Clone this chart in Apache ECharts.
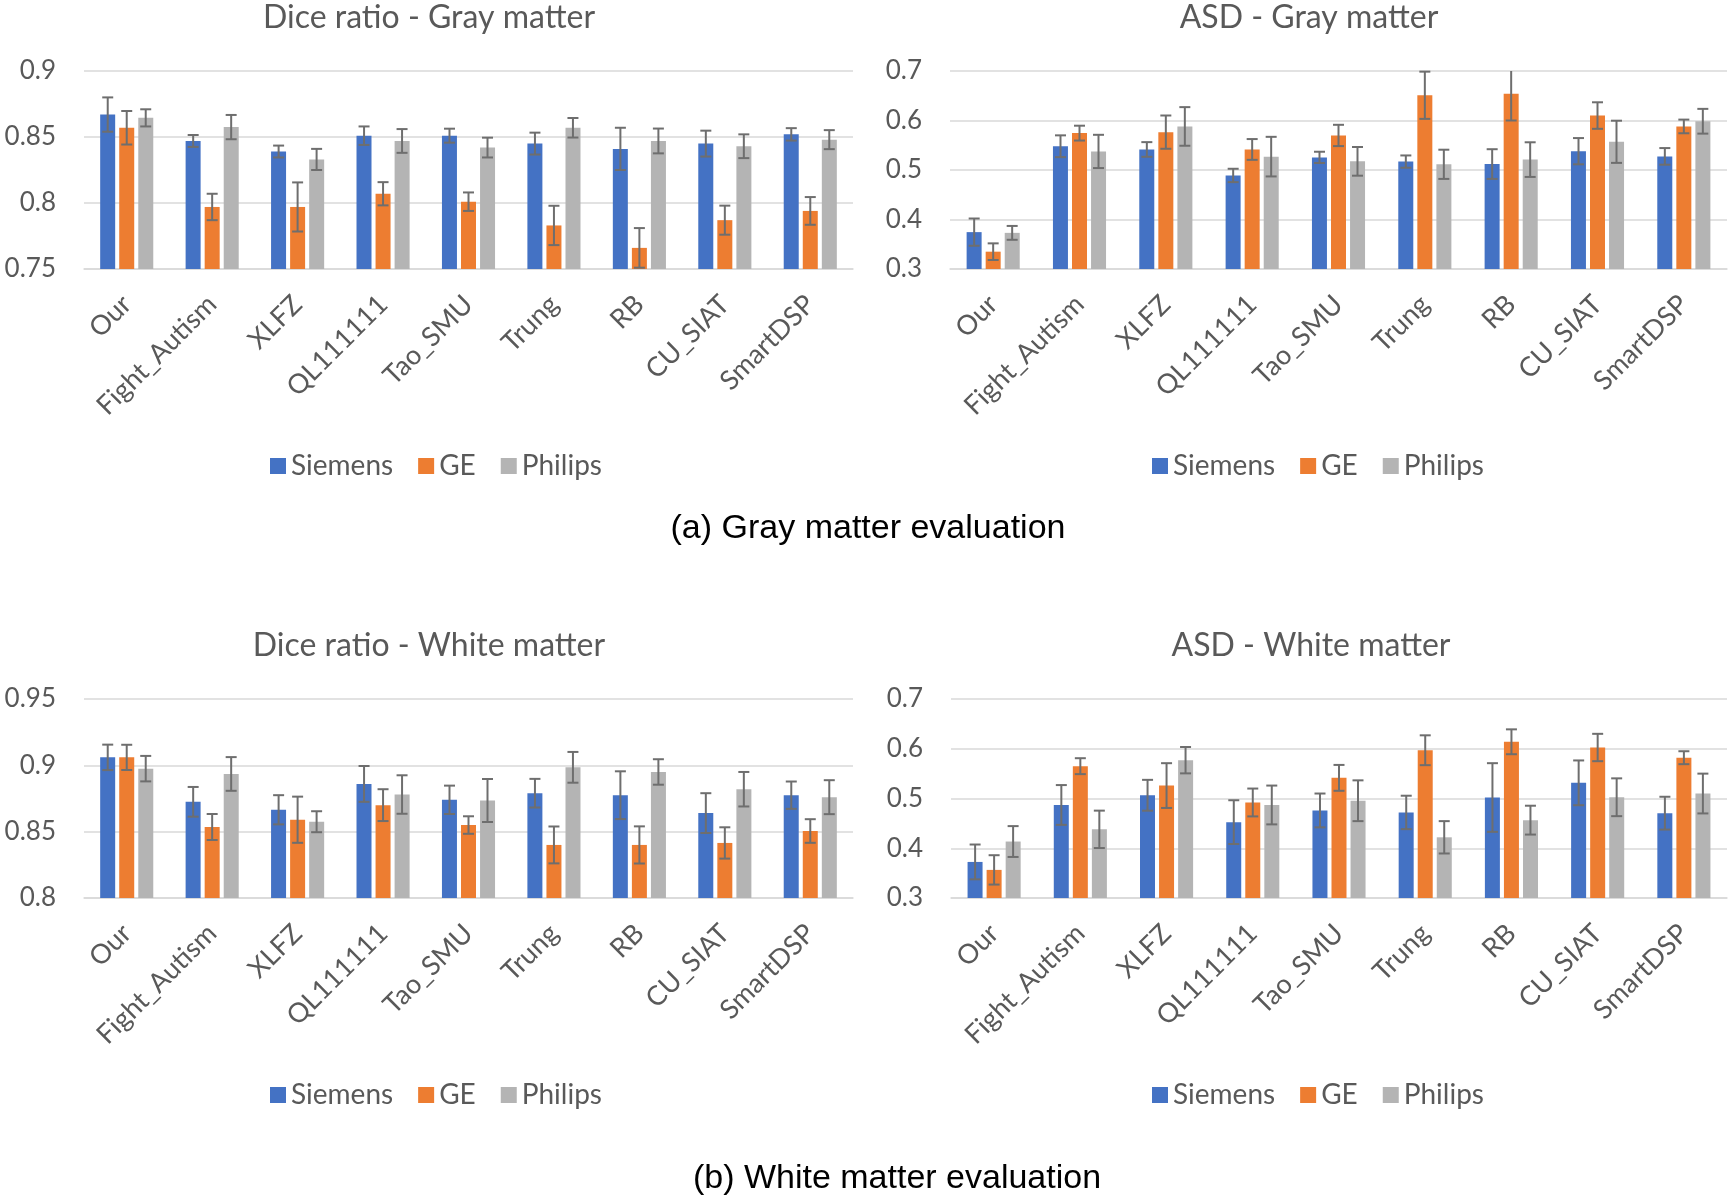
<!DOCTYPE html>
<html>
<head>
<meta charset="utf-8">
<script src="https://cdn.jsdelivr.net/npm/echarts@6/dist/echarts.min.js"></script>
<style>
html,body{margin:0;padding:0;background:#fff;}
#chart{width:1730px;height:1200px;}
</style>
</head>
<body>
<div id="chart"></div>
<script>
// ---------- data ----------
const categories = ['Our','Fight_Autism','XLFZ','QL111111','Tao_SMU','Trung','RB','CU_SIAT','SmartDSP'];
const vendors = ['Siemens','GE','Philips'];

// Dice ratio - Gray matter
const diceGM_siemens     = [0.867,0.847,0.839,0.851,0.851,0.845,0.841,0.845,0.852];
const diceGM_siemens_err = [0.013,0.0045,0.0045,0.007,0.0053,0.0083,0.016,0.0098,0.0047];
const diceGM_ge          = [0.857,0.797,0.797,0.807,0.801,0.783,0.766,0.787,0.794];
const diceGM_ge_err      = [0.0127,0.010,0.0186,0.0088,0.007,0.0149,0.015,0.011,0.0105];
const diceGM_philips     = [0.8645,0.8575,0.833,0.847,0.842,0.857,0.847,0.843,0.848];
const diceGM_philips_err = [0.0065,0.0092,0.008,0.009,0.0075,0.0074,0.0094,0.009,0.0072];

// ASD - Gray matter
const asdGM_siemens      = [0.3745,0.548,0.5415,0.489,0.5255,0.517,0.512,0.538,0.5275];
const asdGM_siemens_err  = [0.0275,0.022,0.0148,0.0135,0.0114,0.0124,0.030,0.0265,0.0168];
const asdGM_ge           = [0.335,0.5745,0.5765,0.5415,0.5698,0.651,0.654,0.610,0.588];
const asdGM_ge_err       = [0.0168,0.015,0.0336,0.021,0.0215,0.0477,0.054,0.0268,0.0138];
const asdGM_philips      = [0.373,0.5375,0.588,0.527,0.5175,0.5115,0.521,0.557,0.5985];
const asdGM_philips_err  = [0.014,0.0336,0.039,0.040,0.029,0.0295,0.035,0.0426,0.025];

// Dice ratio - White matter
const diceWM_siemens     = [0.906,0.8725,0.8665,0.886,0.874,0.879,0.8775,0.864,0.8775];
const diceWM_siemens_err = [0.0096,0.0112,0.011,0.0135,0.0107,0.0108,0.018,0.015,0.0103];
const diceWM_ge          = [0.906,0.8535,0.859,0.870,0.855,0.840,0.840,0.8415,0.8505];
const diceWM_ge_err      = [0.0095,0.0098,0.0174,0.012,0.0066,0.0139,0.014,0.0118,0.0089];
const diceWM_philips     = [0.8975,0.8935,0.8575,0.878,0.8735,0.8985,0.895,0.882,0.876];
const diceWM_philips_err = [0.0096,0.0127,0.0079,0.0145,0.0162,0.0116,0.0096,0.013,0.0128];

// ASD - White matter
const asdWM_siemens      = [0.3725,0.487,0.5065,0.4525,0.476,0.472,0.502,0.5315,0.4705];
const asdWM_siemens_err  = [0.035,0.040,0.031,0.044,0.034,0.0336,0.069,0.045,0.033];
const asdWM_ge           = [0.3565,0.565,0.526,0.492,0.5415,0.597,0.614,0.6025,0.582];
const asdWM_ge_err       = [0.0295,0.016,0.045,0.028,0.026,0.030,0.025,0.0275,0.013];
const asdWM_philips      = [0.4135,0.438,0.577,0.487,0.4955,0.422,0.4565,0.5025,0.510];
const asdWM_philips_err  = [0.031,0.0376,0.0265,0.039,0.041,0.0325,0.029,0.038,0.040];

const yTicksDice_GM = [0.75, 0.9, 0.05];
const yTicksASD     = [0.3, 0.7, 0.1];
const yTicksDice_WM = [0.8, 0.95, 0.05];

// ---------- styling / layout ----------
const colors = ['#4472C4','#ED7D31','#B4B4B4'];
const txt = '#595959';
const font = 'Lato';
const BAR_W = 15, BAR_STEP = 19;

const panels = [
  {title:'Dice ratio - Gray matter', vals:[diceGM_siemens,diceGM_ge,diceGM_philips],
   errs:[diceGM_siemens_err,diceGM_ge_err,diceGM_philips_err], y:yTicksDice_GM,
   grid:{left:84, top:71, width:769, height:198}, tx:429, ty:2, lx:270, ly:452},
  {title:'ASD - Gray matter', vals:[asdGM_siemens,asdGM_ge,asdGM_philips],
   errs:[asdGM_siemens_err,asdGM_ge_err,asdGM_philips_err], y:yTicksASD,
   grid:{left:950, top:71, width:777, height:198}, tx:1309, ty:2, lx:1152, ly:452},
  {title:'Dice ratio - White matter', vals:[diceWM_siemens,diceWM_ge,diceWM_philips],
   errs:[diceWM_siemens_err,diceWM_ge_err,diceWM_philips_err], y:yTicksDice_WM,
   grid:{left:84, top:699, width:769, height:199}, tx:429, ty:630, lx:270, ly:1081},
  {title:'ASD - White matter', vals:[asdWM_siemens,asdWM_ge,asdWM_philips],
   errs:[asdWM_siemens_err,asdWM_ge_err,asdWM_philips_err], y:yTicksASD,
   grid:{left:951, top:699, width:776, height:199}, tx:1311, ty:630, lx:1152, ly:1081}
];

function errRender(offset, yMax){
  return function(params, api){
    const i = api.value(0), v = api.value(1), e = api.value(2);
    const top = Math.min(v + e, yMax);
    const hi = api.coord([i, top]);
    const lo = api.coord([i, v - e]);
    const x = hi[0] + offset;
    const cap = 5.5;
    const st = {stroke:'#6E6E6E', lineWidth:2};
    const ch = [
      {type:'line', shape:{x1:x, y1:hi[1], x2:x, y2:lo[1]}, style:st},
      {type:'line', shape:{x1:x-cap, y1:lo[1], x2:x+cap, y2:lo[1]}, style:st}
    ];
    if (v + e <= yMax) ch.push({type:'line', shape:{x1:x-cap, y1:hi[1], x2:x+cap, y2:hi[1]}, style:st});
    return {type:'group', children:ch};
  };
}

const option = {
  animation:false,
  backgroundColor:'#fff',
  title:[], grid:[], xAxis:[], yAxis:[], legend:[], series:[]
};

panels.forEach((p, k) => {
  option.title.push({text:p.title, left:p.tx, top:p.ty, textAlign:'center', padding:0,
    textStyle:{fontFamily:font, fontSize:32, fontWeight:'normal', color:txt}});
  option.grid.push(Object.assign({containLabel:false}, p.grid));
  option.xAxis.push({type:'category', gridIndex:k, data:categories,
    axisLine:{show:true, lineStyle:{color:'#D9D9D9', width:1.5}},
    axisTick:{show:false},
    axisLabel:{rotate:45, interval:0, margin:31, fontFamily:font, fontSize:27, color:txt}});
  option.yAxis.push({type:'value', gridIndex:k, min:p.y[0], max:p.y[1], interval:p.y[2],
    axisLine:{show:false}, axisTick:{show:false},
    splitLine:{lineStyle:{color:'#D9D9D9', width:1.5}},
    axisLabel:{margin:28, fontFamily:font, fontSize:26, color:txt}});
  option.legend.push({data:vendors, left:p.lx, top:p.ly, icon:'rect', itemWidth:16, itemHeight:16,
    itemGap:25, padding:0, selectedMode:false,
    textStyle:{fontFamily:font, fontSize:28, color:txt}});
  vendors.forEach((vn, s) => {
    option.series.push({type:'bar', name:vn, xAxisIndex:k, yAxisIndex:k, data:p.vals[s],
      barWidth:BAR_W, barGap:'27%', itemStyle:{color:colors[s]}, z:2});
  });
  vendors.forEach((vn, s) => {
    option.series.push({type:'custom', name:'err_'+vn+'_'+k, xAxisIndex:k, yAxisIndex:k,
      renderItem: errRender((s-1)*BAR_STEP, p.y[1]), z:5,
      encode:{x:0, y:1},
      data: categories.map((c, i) => [i, p.vals[s][i], p.errs[s][i]])});
  });
});

option.title.push({text:'(a) Gray matter evaluation', left:868, top:512, textAlign:'center', padding:0,
  textStyle:{fontFamily:'Liberation Sans', fontSize:34, fontWeight:'normal', color:'#000'}});
option.title.push({text:'(b) White matter evaluation', left:897, top:1162, textAlign:'center', padding:0,
  textStyle:{fontFamily:'Liberation Sans', fontSize:34, fontWeight:'normal', color:'#000'}});

const chart = echarts.init(document.getElementById('chart'), null, {renderer:'canvas'});
chart.setOption(option);
</script>
</body>
</html>
